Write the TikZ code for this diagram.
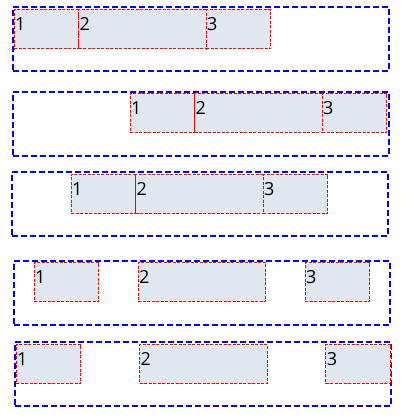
\documentclass[tikz,border=0pt]{standalone}
\usepackage{fontspec}
\setmainfont{Open Sans}
\usetikzlibrary{positioning}
\definecolor{itemfill}{RGB}{224,231,239}
\begin{document}
\begin{tikzpicture}[x=1pt, y=-1pt,
    flexrow/.style={draw=blue, line width=2pt, dash pattern=on 6pt off 3pt,
        minimum width=376pt, minimum height=64pt, inner sep=0pt, outer sep=0pt,
        anchor=north west},
    flexitem/.style={draw=red, line width=1pt, dash pattern=on 3pt off 1.5pt,
        fill=itemfill, inner xsep=1pt, inner ysep=0pt, outer sep=0pt, align=left,
        text height=21pt, text depth=18pt, font=\fontsize{18}{20}\selectfont},
    small/.style={flexitem, text width=62.7pt},
    wide/.style={flexitem, text width=125.5pt}]
    \useasboundingbox (0,0) rectangle (409,420);

    % flex-start
    \node[flexrow] (r1) at (13,7) {};
    \node[small, anchor=north west] (a1) at (14,10) {1};
    \node[wide, right=0pt of a1] (a2) {2};
    \node[small, right=0pt of a2] (a3) {3};

    % flex-end
    \node[flexrow] (r2) at (12.5,91.5) {};
    \node[small, anchor=north west] (b1) at (130,93.5) {1};
    \node[wide, right=0pt of b1] (b2) {2};
    \node[small, right=0pt of b2] (b3) {3};

    % center
    \node[flexrow] (r3) at (12,172) {};
    \node[small, anchor=north west] (c1) at (71,174.5) {1};
    \node[wide, right=0pt of c1] (c2) {2};
    \node[small, right=0pt of c2] (c3) {3};

    % space-around
    \node[flexrow] (r4) at (13.5,260.5) {};
    \node[small, anchor=north west] (d1) at (34,262.5) {1};
    \node[wide, right=39.5pt of d1] (d2) {2};
    \node[small, right=39.5pt of d2] (d3) {3};

    % space-between
    \node[flexrow] (r5) at (14.5,342) {};
    \node[small, anchor=north west] (e1) at (16,344.5) {1};
    \node[wide, right=58.8pt of e1] (e2) {2};
    \node[small, right=58.8pt of e2] (e3) {3};
\end{tikzpicture}
\end{document}
